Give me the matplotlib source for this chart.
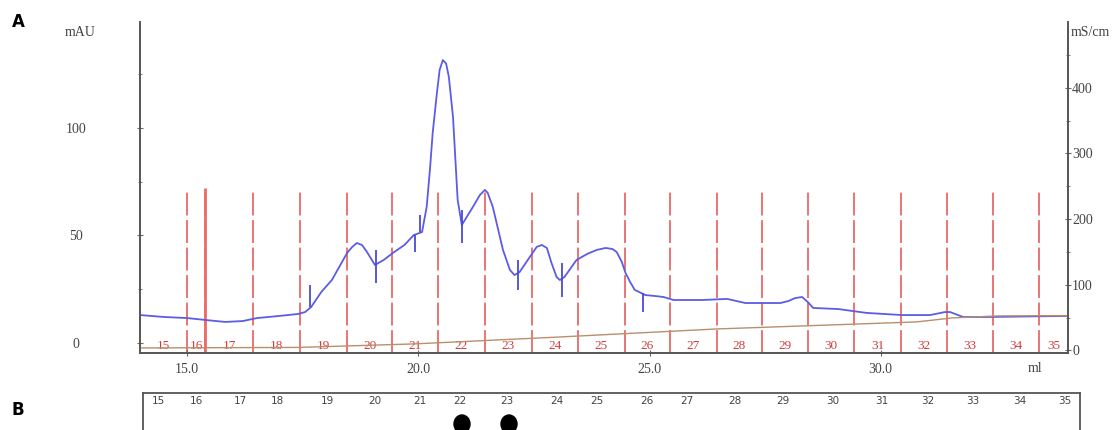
import matplotlib.pyplot as plt
from matplotlib.patches import Ellipse

# --- UV absorbance trace (ml, mAU) ---
uv_ml = [13.98, 14.50, 15.0, 15.40, 15.82, 16.20, 16.51, 17.00, 17.40, 17.55,
         17.68, 17.90, 18.13, 18.30, 18.46, 18.57, 18.67, 18.78, 18.89, 19.06,
         19.25, 19.45, 19.70, 19.90, 20.08, 20.18, 20.25, 20.31, 20.40, 20.46,
         20.53, 20.60, 20.66, 20.75, 20.85, 20.94, 21.18, 21.33, 21.44, 21.50,
         21.61, 21.83, 21.98, 22.08, 22.19, 22.41, 22.56, 22.67, 22.78, 22.88,
         22.99, 23.06, 23.16, 23.42, 23.65, 23.86, 24.05, 24.20, 24.29, 24.40,
         24.48, 24.58, 24.68, 24.91, 25.10, 25.30, 25.52, 26.14, 26.68, 27.07,
         27.83, 28.00, 28.15, 28.30, 28.42, 28.54, 29.08, 29.69, 30.46, 31.07,
         31.39, 31.50, 31.78, 32.32, 34.05]
uv_mau = [13.0, 12.1, 11.6, 10.7, 9.8, 10.2, 11.6, 12.6, 13.5, 14.4,
          16.7, 23.7, 29.3, 35.8, 41.9, 44.7, 46.5, 45.6, 42.3, 36.3,
          38.6, 41.9, 45.6, 50.2, 51.6, 63.3, 80.5, 97.7, 116.0, 127.0,
          131.6, 130.0, 123.7, 105.0, 66.5, 54.9, 63.3, 68.8, 71.2, 69.8,
          63.3, 43.3, 34.0, 31.6, 33.0, 40.0, 44.7, 45.6, 44.2, 37.2,
          30.7, 29.3, 30.7, 38.6, 41.4, 43.3, 44.2, 43.7, 42.3, 37.7,
          32.6, 28.4, 24.7, 22.3, 21.9, 21.4, 20.0, 20.0, 20.5, 18.6,
          18.6, 19.5, 20.9, 21.4, 19.1, 16.3, 15.8, 14.0, 13.0, 13.0,
          14.4, 14.4, 12.1, 12.1, 12.6]

# --- conductivity trace (ml, mS/cm) ---
cond_ml = [13.98, 17.40, 19.90, 23.06, 26.45, 30.77, 31.55, 32.50, 34.05]
cond_ms = [3.7, 4.5, 9.8, 20.4, 32.6, 43.3, 49.4, 52.4, 53.0]

# --- fractions ---
frac_edges = [15.0, 15.39, 16.43, 17.44, 18.46, 19.43, 20.42, 21.44, 22.45, 23.45,
              24.46, 25.45, 26.45, 27.44, 28.43, 29.43, 30.44, 31.44, 32.43, 33.42]
frac_numbers = list(range(15, 36))

# --- small marks on the UV trace ---
mark_ml = [17.66, 19.08, 19.92, 20.03, 20.94, 22.15, 23.10, 24.85]
mark_lo = [16.7, 27.9, 42.3, 51.6, 46.5, 24.7, 21.4, 14.4]
mark_hi = [27.0, 43.3, 50.2, 59.5, 61.9, 38.6, 37.2, 23.3]

# --- dot blot (panel B) ---
blot_lanes = list(range(15, 36))
blot_hits = [22, 23]
# lane layout across the blot strip (pixel columns of the scan)
blot_lane_x = [158, 196, 240, 277, 327, 375, 420, 460, 507, 557, 597,
               647, 687, 735, 783, 833, 882, 928, 973, 1020, 1065]

xlim = (13.98, 34.05)
serif = 'Liberation Serif'
grey = '#444444'

fig = plt.figure(figsize=(11.17, 4.30), dpi=100)
ax = fig.add_axes([140 / 1117, 1 - 353 / 430, 928 / 1117, 331 / 430])
ax2 = ax.twinx()

# fraction collector lines
ax.vlines(frac_edges, -4.65, 72, colors='#e65050', linewidth=1.1,
          linestyles=(0, (15, 3)), zorder=1)
ax.vlines(frac_edges[1], -4.65, 72, colors='#ee6a6a', linewidth=2.0, zorder=1)

# fraction numbers between the lines
bounds = [xlim[0]] + frac_edges + [xlim[1]]
for i, n in enumerate(frac_numbers):
    mid = (bounds[i] + bounds[i + 1]) / 2
    ax.text(mid, -1.6, str(n), color='#d43c3c', fontsize=9.5, family=serif,
            ha='center', va='center', zorder=2)

# traces
ax2.plot(cond_ml, cond_ms, color='#b8906c', linewidth=1.0, zorder=2)
ax.plot(uv_ml, uv_mau, color='#5c5ce4', linewidth=1.3, zorder=3)
ax.vlines(mark_ml, mark_lo, mark_hi, colors='#4a4ad8', linewidth=1.3, zorder=3)

ax.set_xlim(*xlim)
ax.set_ylim(-4.65, 149.3)
ax2.set_ylim(-4, 500)

ax.set_xticks([15, 20, 25, 30])
ax.set_xticklabels(['15.0', '20.0', '25.0', '30.0'])
ax.set_yticks([0, 50, 100])
ax.set_yticks([25, 75, 125], minor=True)
ax2.set_yticks([0, 100, 200, 300, 400])
ax2.set_yticks([50, 150, 250, 350, 450], minor=True)

for a in (ax, ax2):
    a.spines['top'].set_visible(False)
    for s in a.spines.values():
        s.set_color('#555555')
        s.set_linewidth(1.2)
    a.tick_params(which='both', direction='inout', color='#666666', labelcolor=grey,
                  labelsize=10)
    a.tick_params(which='major', length=4)
    a.tick_params(which='minor', length=2.5)
ax.tick_params(axis='x', pad=5)
ax.tick_params(axis='y', pad=44)
ax2.tick_params(axis='y', pad=1)
for lbl in ax.get_xticklabels() + ax.get_yticklabels() + ax2.get_yticklabels():
    lbl.set_family(serif)
for lbl in ax.get_yticklabels():
    lbl.set_ha('center')

fig.text(80 / 1117, 1 - 33 / 430, 'mAU', family=serif, fontsize=10, color=grey,
         ha='center', va='center')
fig.text(1071 / 1117, 1 - 33 / 430, 'mS/cm', family=serif, fontsize=10, color=grey,
         ha='left', va='center')
fig.text(1035 / 1117, 1 - 368 / 430, 'ml', family=serif, fontsize=10, color=grey,
         ha='center', va='center')

fig.text(18 / 1117, 1 - 22 / 430, 'A', fontsize=12, fontweight='bold', ha='center',
         va='center')
fig.text(18 / 1117, 1 - 410 / 430, 'B', fontsize=12, fontweight='bold', ha='center',
         va='center')

# --- panel B: dot blot strip ---
bx = fig.add_axes([143 / 1117, 1 - 470 / 430, 937 / 1117, 77 / 430])
bx.set_xlim(143, 1080)
bx.set_ylim(470, 393)
bx.set_xticks([])
bx.set_yticks([])
for s in bx.spines.values():
    s.set_color('#555555')
    s.set_linewidth(1.3)
for lane, x in zip(blot_lanes, blot_lane_x):
    bx.text(x, 401, str(lane), fontsize=7.5, color='#444444', ha='center', va='center')
for lane in blot_hits:
    x = blot_lane_x[blot_lanes.index(lane)]
    bx.add_patch(Ellipse((x + 2, 424), 16, 18, color='black'))

fig.savefig('out.png', dpi=100)
